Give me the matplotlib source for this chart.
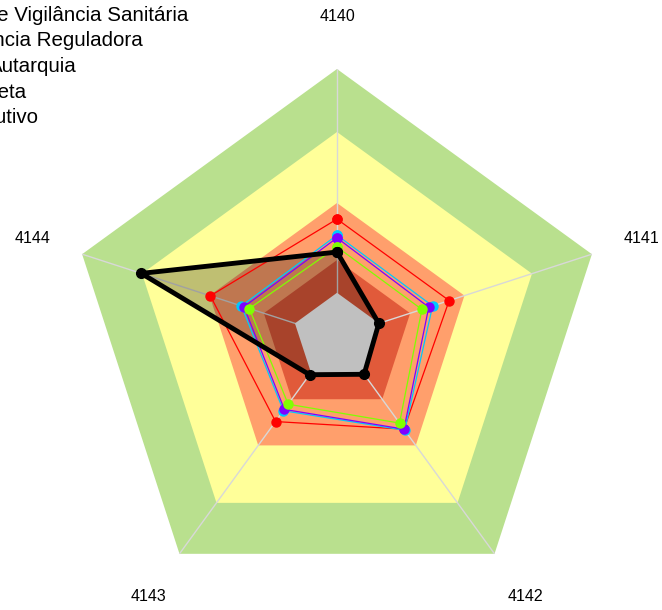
import numpy as np
import matplotlib
matplotlib.use("Agg")
import matplotlib.pyplot as plt

plt.rcParams["font.family"] = ["Liberation Sans", "DejaVu Sans"]

# axes (clockwise from top)
categories = ["4140", "4141", "4142", "4143", "4144"]

# background reference bands (outer radius, % of full scale), drawn outer -> inner
band_limits = [100, 76.5, 50, 28.7, 16.5]
band_colors = ["#b9e08e", "#ffff99", "#ff9f6c", "#e15a3a", "#c0c0c0"]

# series values per axis
series_names = [
    "Agência de Vigilância Sanitária",
    "Agência Reguladora",
    "Autarquia",
    "Administração Direta",
    "Poder Executivo",
]
vals_red = [44.0, 44.0, 42.5, 39.0, 49.7]
vals_cyan = [38.0, 37.5, 43.0, 34.0, 37.5]
vals_purple = [37.0, 36.0, 42.5, 33.4, 36.5]
vals_green = [33.6, 33.3, 39.7, 31.0, 34.4]
vals_black = [31.7, 16.4, 17.2, 17.4, 76.8]

series_vals = [vals_red, vals_cyan, vals_purple, vals_green, vals_black]
series_colors = ["#ff0000", "#00c8ff", "#8000ff", "#80ff00", "#000000"]

W, H = 662, 610
fig = plt.figure(figsize=(W / 100, H / 100), dpi=100)
cx, cy, R = 337, 337, 268
ax = fig.add_axes([(cx - R) / W, (H - cy - R) / H, 2 * R / W, 2 * R / H],
                  projection="polar")
ax.set_theta_zero_location("N")
ax.set_theta_direction(-1)
ax.set_ylim(0, 100)
ax.axis("off")

n = len(categories)
theta = np.arange(n) * 2 * np.pi / n
theta_c = np.append(theta, theta[0])


def closed(v):
    return np.append(v, v[0])


# bands except the grey core
for lim, col in zip(band_limits[:-1], band_colors[:-1]):
    ax.fill(theta_c, [lim] * (n + 1), color=col, lw=0, zorder=1)

# spokes
for t in theta:
    ax.plot([t, t], [0, band_limits[0]], color="#d8d8d8", lw=1, zorder=2)

# black series fill
ax.fill(theta_c, closed(vals_black), color="black", alpha=0.25, lw=0, zorder=3)

# grey core on top of the fill
ax.fill(theta_c, [band_limits[-1]] * (n + 1), color=band_colors[-1], lw=0, zorder=4)

for vals, col, name in zip(series_vals, series_colors, series_names):
    if col == "#000000":
        ax.plot(theta_c, closed(vals), color=col, lw=3.5, marker="o",
                markersize=7, zorder=10, label=name)
    else:
        ax.plot(theta_c, closed(vals), color=col, lw=0.9, marker="o",
                markersize=6.5, zorder=6, label=name)

for t, lab in zip(theta, categories):
    ax.text(t, 119.5, lab, ha="center", va="center", fontsize=11.5, color="black")

# legend text (clipped at the left edge like the original)
legend_right = [188, 143, 77, 26, 38]
for i, (name, xr) in enumerate(zip(series_names, legend_right)):
    fig.text(xr / W, 1 - (21 + 25.5 * i) / H, name, ha="right", va="baseline",
             fontsize=14.8, color="black")

fig.savefig("out.png", dpi=100)
